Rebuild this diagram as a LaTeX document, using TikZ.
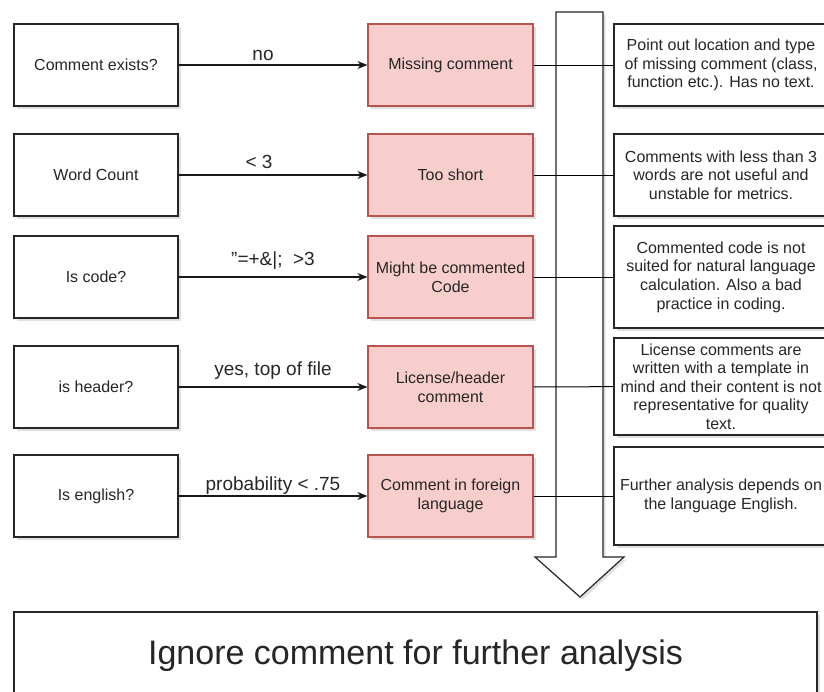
\documentclass[tikz,border=0pt]{standalone}
\usepackage{fontspec}
\setmainfont{Liberation Sans}
\usetikzlibrary{arrows.meta,shadows}
\definecolor{redfill}{HTML}{F8CECC}
\definecolor{redline}{HTML}{B85450}
\definecolor{ink}{HTML}{262626}

\begin{document}
\begin{tikzpicture}[x=1pt,y=-1pt,
  softshadow/.style={drop shadow={shadow xshift=2.5pt, shadow yshift=-2.5pt, fill=black, opacity=0.12}},
  box/.style={draw=ink, line width=1.2pt, fill=white, align=center, text=ink,
    font=\fontsize{16pt}{18.6pt}\selectfont, inner sep=0pt, softshadow},
  qbox/.style={box, minimum width=164pt, minimum height=82pt},
  rbox/.style={box, draw=redline, fill=redfill, minimum width=165pt, minimum height=82pt},
  nbox/.style={box, minimum width=214pt},
  conn/.style={draw=black!90, line width=1.2pt, -{Stealth[length=10pt,width=8pt]}},
  link/.style={draw=black, line width=1pt},
  elbl/.style={font=\fontsize{19pt}{22pt}\selectfont, text=ink, anchor=base, inner sep=0pt}
]
\useasboundingbox (0,0) rectangle (824,691);
\clip (0,0) rectangle (824,691);

% downward block arrow
\draw[draw=ink, line width=1.2pt, fill=white, softshadow]
  (556,12) -- (603,12) -- (603,557) -- (624,557) -- (580,597) -- (535,557) -- (556,557) -- cycle;

% questions
\node[qbox] (q1) at (96,65) {Comment exists?};
\node[qbox] (q2) at (96,175) {Word Count};
\node[qbox] (q3) at (96,277) {Is code?};
\node[qbox] (q4) at (96,387) {is header?};
\node[qbox] (q5) at (96,496) {Is english?};

% resulting categories
\node[rbox] (m1) at (450.5,65) {Missing comment};
\node[rbox] (m2) at (450.5,175) {Too short};
\node[rbox] (m3) at (450.5,277) {Might be commented\\Code};
\node[rbox] (m4) at (450.5,387) {License/header\\comment};
\node[rbox] (m5) at (450.5,496) {Comment in foreign\\language};

% explanations
\node[nbox, minimum height=82pt] (n1) at (721,65)
  {Point out location and type\\of missing comment (class,\\function etc.). Has no text.};
\node[nbox, minimum height=82pt] (n2) at (721,175)
  {Comments with less than 3\\words are not useful and\\unstable for metrics.};
\node[nbox, minimum height=102pt] (n3) at (721,277)
  {Commented code is not\\suited for natural language\\calculation. Also a bad\\practice in coding.};
\node[nbox, minimum height=97pt] (n4) at (721,386.5)
  {License comments are\\written with a template in\\mind and their content is not\\representative for quality\\text.};
\node[nbox, minimum height=98pt] (n5) at (721,496)
  {Further analysis depends on\\the language English.};

% conclusion
\node[box, minimum width=803pt, minimum height=88pt, font=\fontsize{34pt}{39pt}\selectfont]
  (b) at (415.5,656) {Ignore comment for further analysis};

% decision arrows
\draw[conn] (q1) -- node[elbl, xshift=-10pt, yshift=5pt] {no} (m1);
\draw[conn] (q2) -- node[elbl, xshift=-14pt, yshift=7pt] {< 3} (m2);
\draw[conn] (q3) -- node[elbl, yshift=12pt] {"=+\&|;\ \ >3} (m3);
\draw[conn] (q4) -- node[elbl, yshift=12pt] {yes, top of file} (m4);
\draw[conn] (q5) -- node[elbl, yshift=6pt] {probability < .75} (m5);

% links to explanations
\foreach \i in {1,...,5} \draw[link] (m\i) -- (n\i);
\end{tikzpicture}
\end{document}
